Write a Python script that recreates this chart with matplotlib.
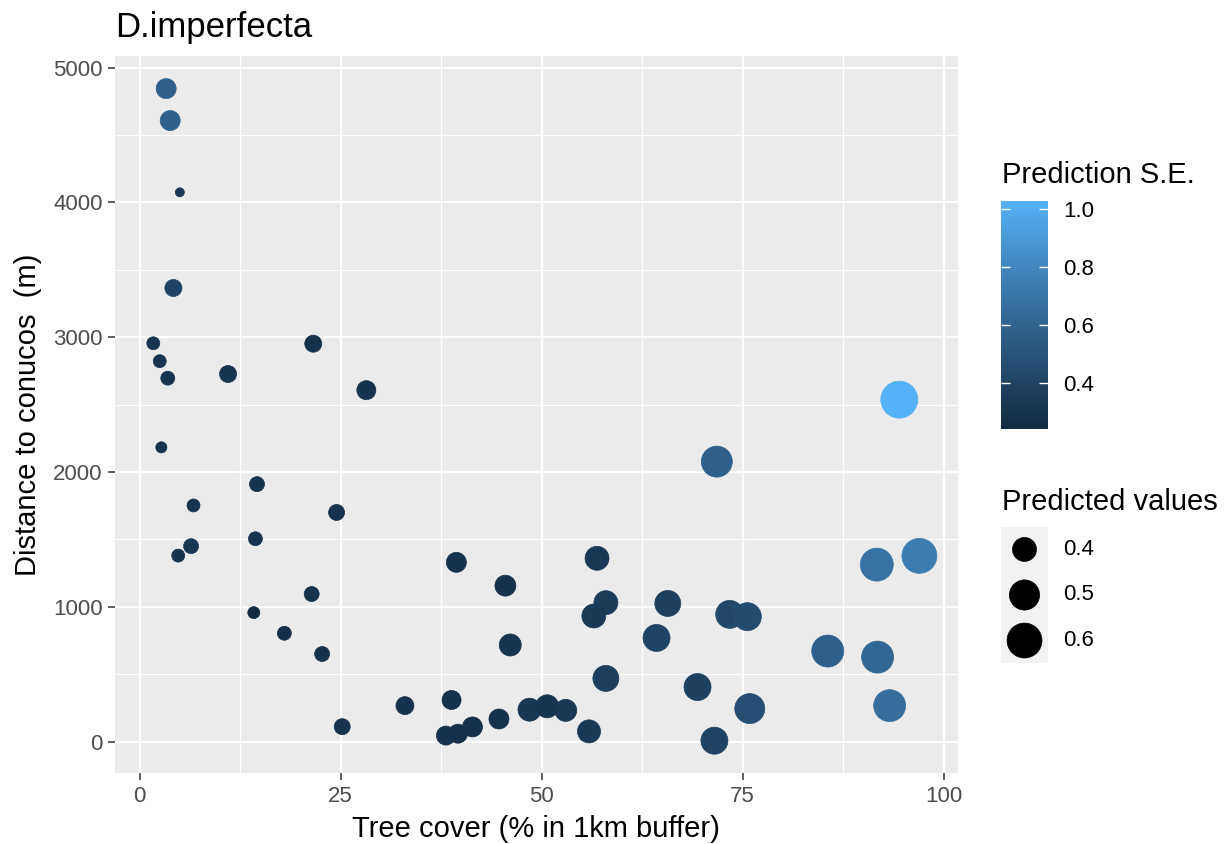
import numpy as np
import matplotlib
matplotlib.use("Agg")
import matplotlib.pyplot as plt
from matplotlib.colors import ListedColormap, Normalize

plt.rcParams['font.family'] = ['Liberation Sans', 'DejaVu Sans']

# data
tree_cover = [3.3, 3.8, 5.0, 4.2, 1.7, 2.5, 3.5, 11.0, 21.6, 28.2,
              2.7, 14.6, 6.7, 24.5, 14.4, 6.4, 4.8, 39.4, 45.5, 21.4,
              14.2, 18.0, 22.7, 46.1, 25.2, 33.0, 38.8, 38.1, 39.6, 41.4,
              44.7, 94.5, 71.8, 91.7, 97.0, 56.9, 58.0, 56.5, 65.7, 73.4,
              75.6, 64.3, 85.6, 91.8, 58.0, 69.4, 93.3, 75.9, 71.5, 55.9,
              48.5, 50.7, 53.0]
distance = [4844, 4607, 4075, 3365, 2955, 2822, 2696, 2727, 2952, 2607,
            2183, 1910, 1752, 1700, 1505, 1450, 1380, 1330, 1157, 1095,
            957, 804, 650, 717, 111, 267, 309, 45, 59, 109,
            168, 2537, 2077, 1313, 1378, 1360, 1031, 932, 1025, 944,
            927, 769, 672, 627, 469, 405, 267, 245, 7, 76,
            237, 262, 232]
predicted = [0.354, 0.354, 0.300, 0.329, 0.307, 0.307, 0.311, 0.329, 0.329, 0.345,
             0.302, 0.316, 0.307, 0.322, 0.311, 0.316, 0.307, 0.354, 0.364, 0.316,
             0.304, 0.311, 0.316, 0.376, 0.322, 0.336, 0.345, 0.345, 0.345, 0.354,
             0.354, 0.650, 0.516, 0.557, 0.602, 0.400, 0.400, 0.400, 0.429, 0.461,
             0.461, 0.445, 0.536, 0.536, 0.429, 0.445, 0.536, 0.497, 0.445, 0.388,
             0.388, 0.388, 0.376]
pred_se = [0.58, 0.58, 0.33, 0.40, 0.30, 0.30, 0.31, 0.31, 0.28, 0.29,
           0.30, 0.30, 0.30, 0.29, 0.29, 0.32, 0.30, 0.29, 0.29, 0.28,
           0.243, 0.27, 0.28, 0.31, 0.30, 0.29, 0.28, 0.29, 0.27, 0.28,
           0.29, 1.03, 0.58, 0.68, 0.75, 0.33, 0.35, 0.34, 0.38, 0.43,
           0.45, 0.40, 0.58, 0.62, 0.37, 0.38, 0.66, 0.47, 0.40, 0.34,
           0.32, 0.31, 0.33]
size_breaks = [0.4, 0.5, 0.6]
se_breaks = [0.4, 0.6, 0.8, 1.0]
x_breaks = [0, 25, 50, 75, 100]
y_breaks = [0, 1000, 2000, 3000, 4000, 5000]

x = np.array(tree_cover)
y = np.array(distance)
pv = np.array(predicted)
se = np.array(pred_se)


# ggplot-like gradient #132B43 -> #56B1F7, interpolated in Lab
def to_lab(rgb):
    c = np.where(rgb <= 0.04045, rgb / 12.92, ((rgb + 0.055) / 1.055) ** 2.4)
    M = np.array([[0.4124, 0.3576, 0.1805], [0.2126, 0.7152, 0.0722], [0.0193, 0.1192, 0.9505]])
    xyz = M @ c / np.array([0.95047, 1.0, 1.08883])
    f = np.where(xyz > 0.008856, np.cbrt(xyz), 7.787 * xyz + 16 / 116)
    return np.array([116 * f[1] - 16, 500 * (f[0] - f[1]), 200 * (f[1] - f[2])])


def from_lab(lab):
    fy = (lab[0] + 16) / 116
    f = np.array([fy + lab[1] / 500, fy, fy - lab[2] / 200])
    xyz = np.where(f ** 3 > 0.008856, f ** 3, (f - 16 / 116) / 7.787) * np.array([0.95047, 1.0, 1.08883])
    Minv = np.array([[3.2406, -1.5372, -0.4986], [-0.9689, 1.8758, 0.0415], [0.0557, -0.2040, 1.0570]])
    c = np.clip(Minv @ xyz, 0, 1)
    return np.where(c <= 0.0031308, 12.92 * c, 1.055 * c ** (1 / 2.4) - 0.055)


lo = to_lab(np.array([0x13, 0x2B, 0x43]) / 255)
hi = to_lab(np.array([0x56, 0xB1, 0xF7]) / 255)
cmap = ListedColormap([from_lab(lo + t * (hi - lo)) for t in np.linspace(0, 1, 256)])
norm = Normalize(se.min(), se.max())

pmin, pmax = pv.min(), pv.max()


def marker_area(v):
    s = 1 + 5 * np.sqrt((np.asarray(v) - pmin) / (pmax - pmin))
    d_px = 5.6 * s + 3.4
    return (d_px * 0.72) ** 2


W, H = 1225, 844
fig = plt.figure(figsize=(12.25, 8.44), dpi=100)
ax = fig.add_axes([115 / W, 1 - 773.3 / H, (957.7 - 115) / W, (773.3 - 56) / H])
ax.set_facecolor('#EBEBEB')
for s in ax.spines.values():
    s.set_visible(False)

colors = cmap(norm(se))
ax.scatter(x, y, s=marker_area(pv), c=colors, edgecolors=colors, linewidths=0.5, zorder=3)

xr = x.max() - x.min()
yr = y.max() - y.min()
ax.set_xlim(x.min() - 0.05 * xr, x.max() + 0.05 * xr)
ax.set_ylim(y.min() - 0.05 * yr, y.max() + 0.05 * yr)
ax.set_xticks(x_breaks)
ax.set_yticks(y_breaks)
ax.set_xticks([12.5, 37.5, 62.5, 87.5], minor=True)
ax.set_yticks([500, 1500, 2500, 3500, 4500], minor=True)
ax.grid(True, which='major', color='white', linewidth=1.6, zorder=0)
ax.grid(True, which='minor', color='white', linewidth=0.8, zorder=0)
ax.set_axisbelow(True)
ax.tick_params(which='major', length=5, width=1.1, color='#333333', labelsize=16,
               labelcolor='#4D4D4D', pad=4)
ax.tick_params(axis='y', pad=4)
ax.tick_params(which='minor', length=0)

ax.set_xlabel('Tree cover (% in 1km buffer)', fontsize=21, labelpad=6)
ax.set_ylabel('Distance to conucos  (m)', fontsize=21, labelpad=8)
ax.set_title('D.imperfecta', loc='left', fontsize=25, pad=14)

# colour bar legend
fig.text(1002 / W, 1 - 183.3 / H, 'Prediction S.E.', fontsize=21, va='baseline')
cax = fig.add_axes([1001 / W, 1 - 428.7 / H, 46.7 / W, 228 / H])
sm = plt.cm.ScalarMappable(norm=norm, cmap=cmap)
cb = fig.colorbar(sm, cax=cax)
cb.outline.set_visible(False)
cb.set_ticks(se_breaks)
cb.set_ticklabels([f'{b:.1f}' for b in se_breaks])
cax.tick_params(axis='y', direction='in', color='white', length=6.5, width=1,
                left=True, right=True, labelleft=False, labelright=True,
                labelsize=16, pad=11)

# size legend
fig.text(1002 / W, 1 - 510 / H, 'Predicted values', fontsize=21, va='baseline')
lax = fig.add_axes([1001 / W, 1 - 663.3 / H, 47 / W, 136.6 / H])
lax.set_facecolor('#F2F2F2')
for s in lax.spines.values():
    s.set_visible(False)
lax.set_xlim(0, 1)
lax.set_ylim(0, len(size_breaks))
lax.set_xticks([])
lax.set_yticks([])
key_y = np.arange(len(size_breaks))[::-1] + 0.5
lax.scatter([0.5] * len(size_breaks), key_y, s=marker_area(size_breaks), c='black',
            linewidths=0.5, edgecolors='black', clip_on=False)
for yy, b in zip(key_y, size_breaks):
    lax.text(1.32, yy, f'{b:.1f}', transform=lax.transData, fontsize=16, va='center')

fig.savefig('out.png', dpi=100)
